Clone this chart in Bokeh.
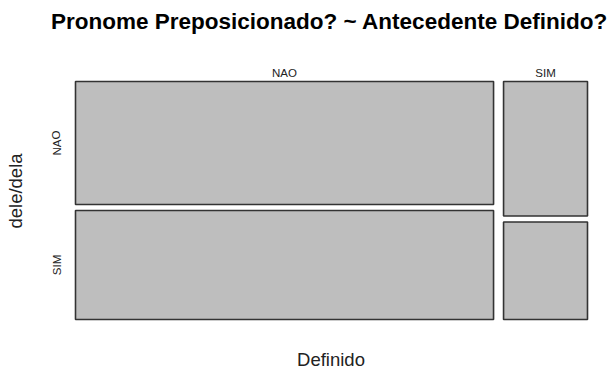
from bokeh.plotting import figure
from bokeh.models import Range1d, ColumnDataSource
from bokeh.core.properties import value
from bokeh.embed import file_html
from bokeh.resources import INLINE

# Contingency table: dele/dela (rows) by Definido (columns)
col_levels = ["NAO", "SIM"]          # Definido
row_levels = ["NAO", "SIM"]          # dele/dela
counts = {
    "NAO": [132, 117],
    "SIM": [29, 21],
}

title_text = "Pronome Preposicionado? ~ Antecedente Definido?"
x_title = "Definido"
y_title = "dele/dela"

W, H = 610, 371
# mosaic area in canvas units
X0, X1, Y0, Y1 = 75, 587, 81, 319
XGAP, YGAP = 10, 6

p = figure(width=W, height=H, output_backend="svg", toolbar_location=None,
           x_range=Range1d(0, W), y_range=Range1d(H, 0),
           min_border=0, outline_line_color=None)
p.axis.visible = False
p.grid.visible = False
p.background_fill_color = "white"
p.border_fill_color = "white"

N = sum(sum(v) for v in counts.values())
avail_w = (X1 - X0) - XGAP * (len(col_levels) - 1)
avail_h = (Y1 - Y0) - YGAP * (len(row_levels) - 1)

left, right, top, bottom = [], [], [], []
col_centers = []
row_centers_first = []
x = X0
for j, c in enumerate(col_levels):
    tot = sum(counts[c])
    w = avail_w * tot / N
    col_centers.append(x + w / 2)
    y = Y0
    for i, r in enumerate(row_levels):
        h = avail_h * counts[c][i] / tot
        left.append(x); right.append(x + w)
        top.append(y); bottom.append(y + h)
        if j == 0:
            row_centers_first.append(y + h / 2)
        y += h + YGAP
    x += w + XGAP

src = ColumnDataSource(dict(left=left, right=right, top=top, bottom=bottom))
p.quad(left="left", right="right", top="top", bottom="bottom", source=src,
       fill_color="#bebebe", line_color="#333333", line_width=1.6)

font = value("Liberation Sans")

# title
p.text(x=[329], y=[21], text=[title_text], text_font=font,
       text_font_size="22.5px", text_font_style="bold", text_align="center",
       text_baseline="middle", text_color="black")

# column labels
p.text(x=col_centers, y=[72.5] * len(col_centers), text=col_levels, text_font=font,
       text_font_size="11.5px", text_align="center", text_baseline="middle",
       text_color="#222222")

# row labels, rotated
p.text(x=[56] * len(row_centers_first), y=row_centers_first, text=row_levels,
       text_font=font, text_font_size="11.5px", text_align="center",
       text_baseline="middle", angle=1.5708, text_color="#222222")

# axis titles
p.text(x=[330.5], y=[359], text=[x_title], text_font=font,
       text_font_size="18.5px", text_align="center", text_baseline="middle",
       text_color="#222222")
p.text(x=[15], y=[190.5], text=[y_title], text_font=font,
       text_font_size="18.5px", text_align="center", text_baseline="middle",
       angle=1.5708, text_color="#222222")

open("out.html", "w").write(file_html(p, INLINE))
